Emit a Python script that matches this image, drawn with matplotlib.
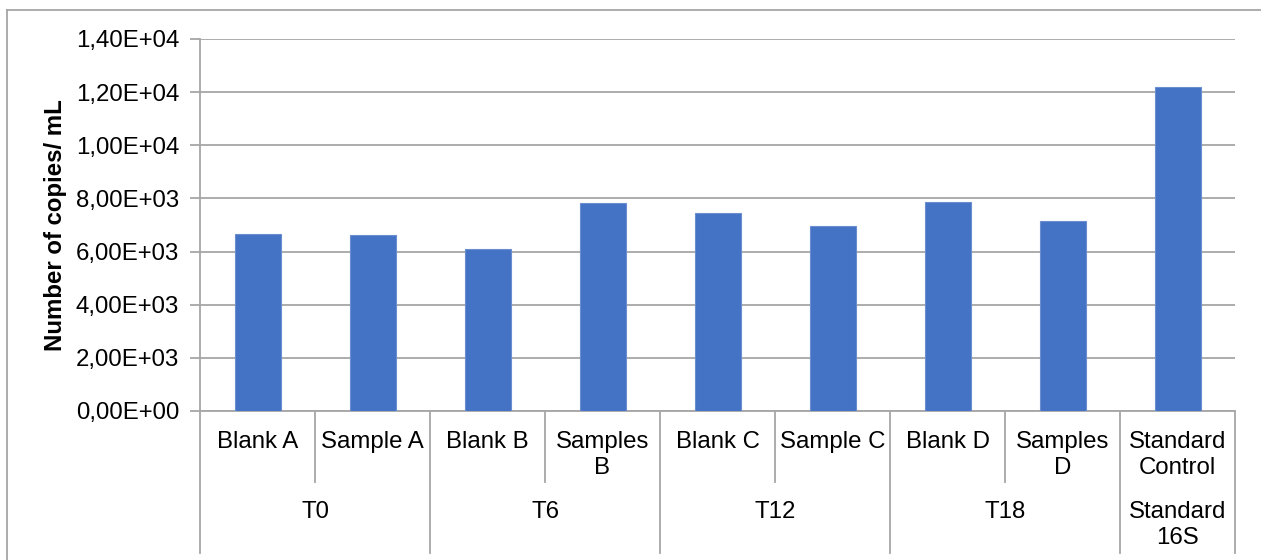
import matplotlib
matplotlib.use("Agg")
import matplotlib.pyplot as plt
from matplotlib.lines import Line2D
from matplotlib.ticker import FuncFormatter

plt.rcParams['font.family'] = ['Liberation Sans', 'DejaVu Sans']

# data
categories = ["Blank A", "Sample A", "Blank B", "Samples\nB", "Blank C",
              "Sample C", "Blank D", "Samples\nD", "Standard\nControl"]
copies = [6650, 6630, 6090, 7830, 7460, 6960, 7860, 7150, 12180]
groups = ["T0", "T6", "T12", "T18", "Standard\n16S"]
group_sizes = [2, 2, 2, 2, 1]

W, H = 1261, 560
fig = plt.figure(figsize=(W / 100, H / 100), dpi=100)

# plot area in pixels
left, right, top, bottom = 200, 1235, 39, 411
ax = fig.add_axes([left / W, 1 - bottom / H, (right - left) / W, (bottom - top) / H])

grid_c = "#A6A6A6"
blue = "#4472C4"
fs = 17.3

x = list(range(len(categories)))
ax.bar(x, copies, width=0.4, color=blue, edgecolor="#6A8ED0", linewidth=0.8, zorder=3)
ax.set_xlim(-0.5, len(categories) - 0.5)
ax.set_ylim(0, 14000)
ax.set_yticks(range(0, 14001, 2000))
ax.yaxis.set_major_formatter(FuncFormatter(lambda v, p: f"{v:.2E}".replace(".", ",")))
ax.tick_params(axis="y", labelsize=fs, length=7, color=grid_c, width=1.3, pad=8)
ax.set_xticks([])
ax.grid(axis="y", color=grid_c, linewidth=1.3, zorder=0)
for s in ["top", "right"]:
    ax.spines[s].set_visible(False)
for s in ["left", "bottom"]:
    ax.spines[s].set_color(grid_c)
    ax.spines[s].set_linewidth(1.3)

ax.set_ylabel("Number of copies/ mL", fontsize=fs, fontweight="bold", labelpad=6)


def ay(py):
    # pixel y -> axes fraction
    return (bottom - py) / (bottom - top)


tr = ax.get_xaxis_transform()
for i, lab in enumerate(categories):
    ax.text(i, ay(431), lab, transform=tr, ha="center", va="top",
            fontsize=fs, linespacing=1.25)

# group labels and dividers
pos = -0.5
bounds = [pos]
for g, n in zip(groups, group_sizes):
    ax.text(pos + n / 2, ay(501), g, transform=tr, ha="center", va="top",
            fontsize=fs, linespacing=1.25)
    pos += n
    bounds.append(pos)

for b in range(len(categories) + 1):
    xb = b - 0.5
    full = xb in bounds
    y_end = ay(553) if full else ay(482)
    ax.add_line(Line2D([xb, xb], [0, y_end], transform=tr, color=grid_c,
                       linewidth=1.3, clip_on=False))

# outer chart border (left and top)
fig.add_artist(Line2D([7 / W, 7 / W], [0, 1 - 10 / H], color=grid_c, linewidth=1.3))
fig.add_artist(Line2D([7 / W, 1], [1 - 10 / H, 1 - 10 / H], color=grid_c, linewidth=1.3))

fig.savefig("out.png", dpi=100)
